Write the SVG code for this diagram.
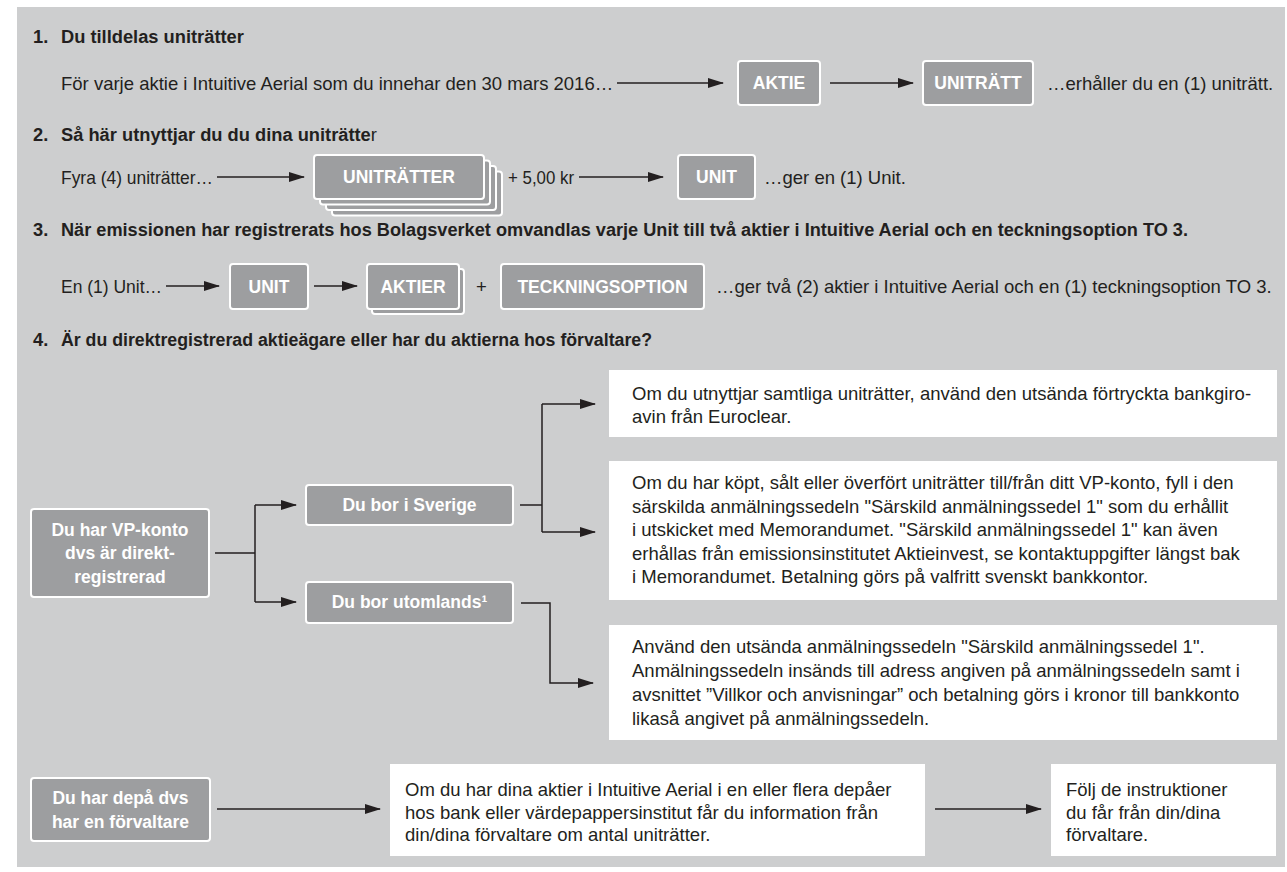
<svg xmlns="http://www.w3.org/2000/svg" width="1287" height="872" viewBox="0 0 1287 872">
<style>
.bg{fill:#cdcecf}
.dk{fill:#9d9ea0;stroke:#fff;stroke-width:2}
.wb{fill:#fff}
.t{font-family:"Liberation Sans",Arial,sans-serif;font-size:18.5px;fill:#231f20}
.h{font-family:"Liberation Sans",Arial,sans-serif;font-size:18.3px;font-weight:bold;fill:#231f20}
.bl{font-family:"Liberation Sans",Arial,sans-serif;font-size:17.5px;font-weight:bold;fill:#fff;text-anchor:middle}
.ln{fill:none;stroke:#231f20;stroke-width:1.5}
.ar{marker-end:url(#ah)}
</style>
<defs>
<marker id="ah" markerWidth="17" markerHeight="11" refX="15" refY="5.5" orient="auto" markerUnits="userSpaceOnUse"><path d="M0,0.5 L16,5.5 L0,10.5 z" fill="#231f20"/></marker>
</defs>
<rect class="bg" x="17" y="7" width="1268" height="860"/>

<g id="headings">
<text class="h" x="33" y="43">1.</text><text class="h" x="61" y="43">Du tilldelas uniträtter</text>
<text class="h" x="33" y="141">2.</text><text class="h" x="61" y="141">Så här utnyttjar du du dina uniträtte<tspan font-weight="normal">r</tspan></text>
<text class="h" x="33" y="236">3.</text><text class="h" x="61" y="236" textLength="1127" lengthAdjust="spacingAndGlyphs">När emissionen har registrerats hos Bolagsverket omvandlas varje Unit till två aktier i Intuitive Aerial och en teckningsoption TO 3.</text>
<text class="h" x="33" y="346">4.</text><text class="h" x="61" y="346" textLength="591" lengthAdjust="spacingAndGlyphs">Är du direktregistrerad aktieägare eller har du aktierna hos förvaltare?</text>
</g>

<g id="row1-text">
<text class="t" x="61" y="90">För varje aktie i Intuitive Aerial som du innehar den 30 mars 2016…</text>
<text class="t" x="1047" y="90">…erhåller du en (1) uniträtt.</text>
</g>
<g id="aktie1"><rect class="dk" x="738" y="61" width="82" height="44" rx="3"/><text class="bl" x="779" y="89">AKTIE</text></g>
<g id="unitratt"><rect class="dk" x="923" y="61" width="110" height="44" rx="3"/><text class="bl" x="978" y="89">UNITRÄTT</text></g>

<g id="row2-text">
<text class="t" x="61" y="184" textLength="152" lengthAdjust="spacingAndGlyphs">Fyra (4) uniträtter…</text>
<text class="t" x="508" y="184" textLength="66" lengthAdjust="spacingAndGlyphs">+ 5,00 kr</text>
<text class="t" x="764" y="184">…ger en (1) Unit.</text>
</g>
<g id="unitratter">
<rect class="dk" x="332" y="171.5" width="170" height="44" rx="3"/>
<rect class="dk" x="326" y="166" width="170" height="44" rx="3"/>
<rect class="dk" x="320" y="160.5" width="170" height="44" rx="3"/>
<rect class="dk" x="314" y="155" width="170" height="44" rx="3"/>
<text class="bl" x="399" y="183">UNITRÄTTER</text>
</g>
<g id="unit2"><rect class="dk" x="678" y="155" width="77" height="44" rx="3"/><text class="bl" x="716.5" y="183">UNIT</text></g>

<g id="row3-text">
<text class="t" x="61" y="293" textLength="101" lengthAdjust="spacingAndGlyphs">En (1) Unit…</text>
<text class="t" x="476" y="293">+</text>
<text class="t" x="716" y="293">…ger två (2) aktier i Intuitive Aerial och en (1) teckningsoption TO 3.</text>
</g>
<g id="unit3"><rect class="dk" x="230" y="264" width="78" height="45" rx="3"/><text class="bl" x="269" y="292.5">UNIT</text></g>
<g id="aktier">
<rect class="dk" x="372" y="269" width="92" height="45" rx="3"/>
<rect class="dk" x="367" y="264" width="92" height="45" rx="3"/>
<text class="bl" x="413" y="292.5">AKTIER</text>
</g>
<g id="teckningsoption"><rect class="dk" x="501" y="264" width="203" height="45" rx="3"/><text class="bl" x="602.5" y="292.5">TECKNINGSOPTION</text></g>

<g id="vpkonto"><rect class="dk" x="31" y="509" width="178" height="88" rx="3"/>
<text class="bl" x="120" y="536">Du har VP-konto</text><text class="bl" x="120" y="559">dvs är direkt-</text><text class="bl" x="120" y="583">registrerad</text></g>
<g id="sverige"><rect class="dk" x="306" y="485" width="207" height="40" rx="3"/><text class="bl" x="409.5" y="511">Du bor i Sverige</text></g>
<g id="utomlands"><rect class="dk" x="306" y="582" width="207" height="41" rx="3"/><text class="bl" x="409.5" y="608">Du bor utomlands¹</text></g>
<g id="depa"><rect class="dk" x="31" y="778" width="179" height="63" rx="3"/>
<text class="bl" x="120.5" y="804">Du har depå dvs</text><text class="bl" x="120.5" y="828">har en förvaltare</text></g>

<g id="box-bankgiro"><rect class="wb" x="609" y="370" width="668" height="67"/>
<text class="t" x="632" y="400">Om du utnyttjar samtliga uniträtter, använd den utsända förtryckta bankgiro-</text>
<text class="t" x="632" y="423">avin från Euroclear.</text></g>
<g id="box-kopt"><rect class="wb" x="609" y="461" width="668" height="139"/>
<text class="t" x="632" y="489">Om du har köpt, sålt eller överfört uniträtter till/från ditt VP-konto, fyll i den</text>
<text class="t" x="632" y="512.6">särskilda anmälningssedeln "Särskild anmälningssedel 1" som du erhållit</text>
<text class="t" x="632" y="536.2">i utskicket med Memorandumet. "Särskild anmälningssedel 1" kan även</text>
<text class="t" x="632" y="559.8">erhållas från emissionsinstitutet Aktieinvest, se kontaktuppgifter längst bak</text>
<text class="t" x="632" y="583.4">i Memorandumet. Betalning görs på valfritt svenskt bankkontor.</text></g>
<g id="box-utland"><rect class="wb" x="609" y="625" width="668" height="115"/>
<text class="t" x="632" y="652.5">Använd den utsända anmälningssedeln "Särskild anmälningssedel 1".</text>
<text class="t" x="632" y="676.5">Anmälningssedeln insänds till adress angiven på anmälningssedeln samt i</text>
<text class="t" x="632" y="700.5">avsnittet ”Villkor och anvisningar” och betalning görs i kronor till bankkonto</text>
<text class="t" x="632" y="724.5">likaså angivet på anmälningssedeln.</text></g>
<g id="box-depaer"><rect class="wb" x="390" y="764" width="535" height="92"/>
<text class="t" x="405" y="796">Om du har dina aktier i Intuitive Aerial i en eller flera depåer</text>
<text class="t" x="405" y="818.5">hos bank eller värdepappersinstitut får du information från</text>
<text class="t" x="405" y="841">din/dina förvaltare om antal uniträtter.</text></g>
<g id="box-folj"><rect class="wb" x="1051" y="764" width="225" height="92"/>
<text class="t" x="1066" y="796">Följ de instruktioner</text>
<text class="t" x="1066" y="818.5">du får från din/dina</text>
<text class="t" x="1066" y="841">förvaltare.</text></g>

<g id="connectors">
<line class="ln ar" x1="617" y1="83" x2="723" y2="83"/>
<line class="ln ar" x1="830" y1="83" x2="913" y2="83"/>
<line class="ln ar" x1="217" y1="177" x2="304" y2="177"/>
<line class="ln ar" x1="579" y1="177" x2="663" y2="177"/>
<line class="ln ar" x1="166" y1="286" x2="219" y2="286"/>
<line class="ln ar" x1="314" y1="286" x2="357" y2="286"/>
<path class="ln" d="M215,553 H255 M255,505 V602"/>
<path class="ln ar" d="M255,505 H296"/>
<path class="ln ar" d="M255,602 H296"/>
<path class="ln" d="M520,505 H542 M542,404 V532"/>
<path class="ln ar" d="M542,404 H595"/>
<path class="ln ar" d="M542,532 H595"/>
<path class="ln ar" d="M521,603 H550 V683 H593"/>
<line class="ln ar" x1="217" y1="809" x2="380" y2="809"/>
<line class="ln ar" x1="935" y1="809" x2="1041" y2="809"/>
</g>
</svg>
